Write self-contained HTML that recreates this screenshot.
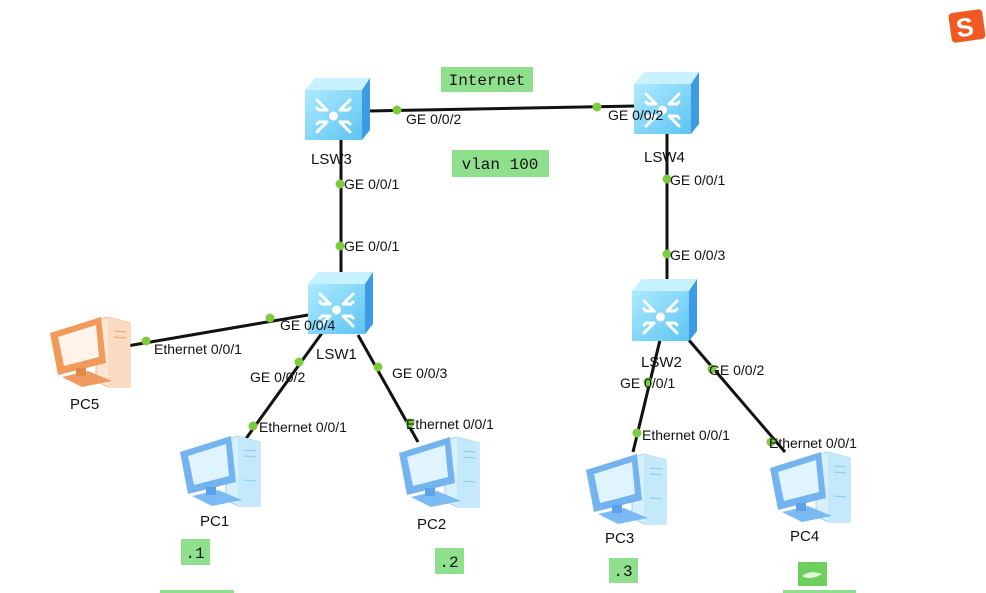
<!DOCTYPE html>
<html><head><meta charset="utf-8"><style>
html,body{margin:0;padding:0;background:#fff;}
svg{display:block;}
.t{font-family:"Liberation Sans",sans-serif;font-size:14px;fill:#111;}
.n{font-family:"Liberation Sans",sans-serif;font-size:15px;fill:#111;}
.m{font-family:"Liberation Mono",monospace;font-size:16px;fill:#111;text-anchor:middle;}
</style></head><body>
<svg width="986" height="593" viewBox="0 0 986 593" xmlns="http://www.w3.org/2000/svg">
<defs>
<linearGradient id="sf" x1="0" y1="0" x2="1" y2="1"><stop offset="0" stop-color="#aeeaff"/><stop offset="1" stop-color="#5cc4f2"/></linearGradient>
<g id="sw">
<polygon points="0,12 10,0 65,0 57,12" fill="#c8f2ff"/>
<polygon points="57,12 65,0 65,52 57,62" fill="#3d9be6"/>
<rect x="0" y="12" width="57" height="50" fill="url(#sf)"/>
<g stroke="#fff" stroke-width="3" fill="none" stroke-linecap="round">
<path d="M12,22 L22,32 M12,30 L14,32 L22,32"/>
<path d="M45,22 L35,32 M45,30 L43,32 L35,32"/>
<path d="M12,54 L22,44 M12,46 L14,44 L22,44"/>
<path d="M45,54 L35,44 M45,46 L43,44 L35,44"/>
</g>
<circle cx="28.5" cy="38" r="4.5" fill="#fff"/>
</g>
<g id="pc">
<polygon points="50,8 62,4 84,10 84,74 62,74 50,68" fill="#d6f1fd" stroke="#9fd3f0" stroke-width="1"/>
<polygon points="62,4 84,10 84,74 62,74" fill="#c4e9fb"/>
<line x1="68" y1="18" x2="80" y2="19" stroke="#8cc8ea"/><line x1="68" y1="24" x2="80" y2="25" stroke="#8cc8ea"/><line x1="68" y1="48" x2="80" y2="49" stroke="#8cc8ea"/>
<polygon points="4,20 55,4 60,50 12,62" fill="#72b3f0"/>
<polygon points="12,24 50,12 53,44 18,53" fill="#dff4ff"/>
<polygon points="16,64 42,58 66,68 36,74" fill="#7cbaf3"/>
<rect x="30" y="55" width="10" height="8" fill="#5aa3ec"/>
</g>
<g id="pco">
<polygon points="50,8 62,4 84,10 84,74 62,74 50,68" fill="#fde6d2" stroke="#f0b88a" stroke-width="1"/>
<polygon points="62,4 84,10 84,74 62,74" fill="#fbdcc2"/>
<line x1="68" y1="18" x2="80" y2="19" stroke="#eaa070"/><line x1="68" y1="24" x2="80" y2="25" stroke="#eaa070"/>
<polygon points="4,20 55,4 60,50 12,62" fill="#f19a5a"/>
<polygon points="12,24 50,12 53,44 18,53" fill="#fff3ea"/>
<polygon points="16,64 42,58 66,68 36,74" fill="#ee9a60"/>
<rect x="30" y="55" width="10" height="8" fill="#e4884a"/>
</g>
</defs>

<g stroke="#111" stroke-width="3">
<line x1="368" y1="111" x2="636" y2="106"/>
<line x1="341" y1="140" x2="341" y2="274"/>
<line x1="667" y1="133" x2="667" y2="282"/>
<line x1="308" y1="315" x2="127" y2="346"/>
<line x1="322" y1="333" x2="245" y2="440"/>
<line x1="358" y1="335" x2="418" y2="442"/>
<line x1="660" y1="340" x2="633" y2="452"/>
<line x1="688" y1="339" x2="785" y2="452"/>
</g>

<use href="#sw" x="305" y="78"/>
<use href="#sw" x="634" y="72"/>
<use href="#sw" x="308" y="272"/>
<use href="#sw" x="632" y="279"/>
<use href="#pc" x="176" y="432"/>
<use href="#pc" x="395" y="433"/>
<use href="#pc" x="582" y="450"/>
<use href="#pc" x="766" y="448"/>
<use href="#pco" x="46" y="313"/>

<g fill="#7ccc3c">
<circle cx="397" cy="110" r="4.5"/><circle cx="597" cy="107" r="4.5"/>
<circle cx="340" cy="184" r="4.5"/><circle cx="340" cy="246" r="4.5"/>
<circle cx="667" cy="179" r="4.5"/><circle cx="667" cy="254" r="4.5"/>
<circle cx="270" cy="318" r="4.5"/><circle cx="146" cy="341" r="4.5"/>
<circle cx="299" cy="362" r="4.5"/><circle cx="253" cy="426" r="4.5"/>
<circle cx="378" cy="367" r="4.5"/><circle cx="410" cy="423" r="4.5"/>
<circle cx="648" cy="382" r="4.5"/><circle cx="637" cy="433" r="4.5"/>
<circle cx="712" cy="369" r="4.5"/><circle cx="771" cy="442" r="4.5"/>
</g>

<g class="t">
<text x="406" y="124">GE 0/0/2</text>
<text x="608" y="120">GE 0/0/2</text>
<text x="344" y="189">GE 0/0/1</text>
<text x="344" y="251">GE 0/0/1</text>
<text x="670" y="185">GE 0/0/1</text>
<text x="670" y="260">GE 0/0/3</text>
<text x="280" y="330">GE 0/0/4</text>
<text x="154" y="354">Ethernet 0/0/1</text>
<text x="250" y="382">GE 0/0/2</text>
<text x="392" y="378">GE 0/0/3</text>
<text x="259" y="432">Ethernet 0/0/1</text>
<text x="406" y="429">Ethernet 0/0/1</text>
<text x="620" y="388">GE 0/0/1</text>
<text x="709" y="375">GE 0/0/2</text>
<text x="642" y="440">Ethernet 0/0/1</text>
<text x="769" y="448">Ethernet 0/0/1</text>
</g>

<g class="n">
<text x="311" y="164">LSW3</text>
<text x="644" y="162">LSW4</text>
<text x="316" y="359">LSW1</text>
<text x="641" y="367">LSW2</text>
<text x="70" y="409">PC5</text>
<text x="200" y="526">PC1</text>
<text x="417" y="529">PC2</text>
<text x="605" y="543">PC3</text>
<text x="790" y="541">PC4</text>
</g>

<g fill="#8fe08c">
<rect x="441" y="67" width="92" height="25"/>
<rect x="452" y="150" width="97" height="27"/>
<rect x="181" y="539" width="29" height="26"/>
<rect x="435" y="548" width="29" height="26"/>
<rect x="609" y="558" width="29" height="25"/>
<rect x="798" y="562" width="29" height="24" fill="#6fcf5c"/>
<rect x="160" y="590" width="74" height="3"/>
<rect x="783" y="590" width="73" height="3"/>
</g>
<path d="M803,575 Q812,570 822,574 Q812,580 803,577" fill="#dff7d9"/>
<g class="m">
<text x="487" y="85">Internet</text>
<text x="500" y="169">vlan 100</text>
<text x="195" y="558">.1</text>
<text x="449" y="567">.2</text>
<text x="623" y="576">.3</text>
</g>

<g transform="rotate(-8 967 26)">
<rect x="950" y="11" width="34" height="30" rx="4" fill="#f05a22"/>
<text x="956" y="36" font-family="Liberation Sans,sans-serif" font-weight="bold" font-size="26" fill="#fff">S</text>
</g>
</svg>
</body></html>
